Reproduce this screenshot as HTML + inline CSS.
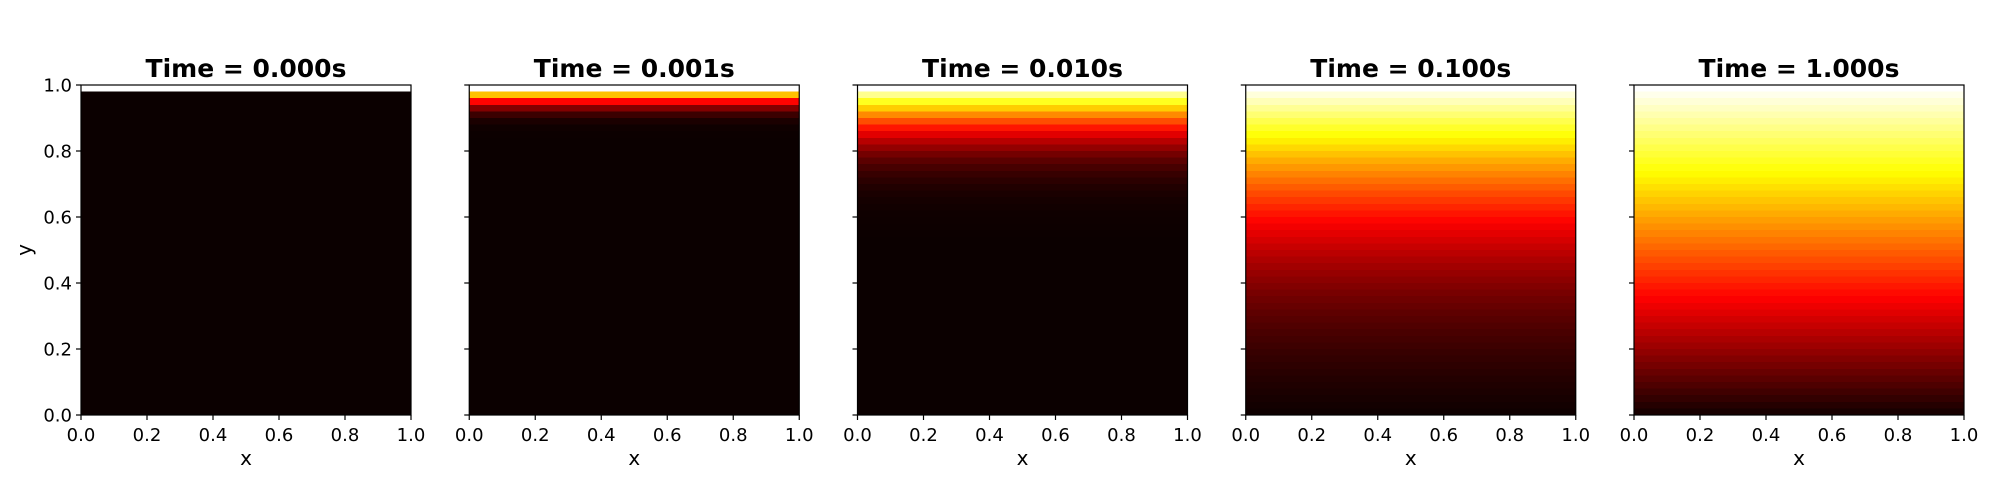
<!DOCTYPE html>
<html><head><meta charset="utf-8"><style>
html,body{margin:0;padding:0;background:#fff;}
svg{display:block;font-family:"DejaVu Sans","Liberation Sans",sans-serif;}
</style></head><body>
<svg id="fig" width="2000" height="500" viewBox="0 0 2000 500" xmlns="http://www.w3.org/2000/svg"></svg>
<script>
// ---- data ----
const panelTitles = ["Time = 0.000s","Time = 0.001s","Time = 0.010s","Time = 0.100s","Time = 1.000s"];
const tickLabels = ["0.0","0.2","0.4","0.6","0.8","1.0"];
const tickValues = [0,0.2,0.4,0.6,0.8,1.0];
const cellHeight = 0.02;
// temperature per row, top row (y=1.00..0.98) first, down to bottom row (0.02..0.00)
const tempT0 = [1,0,0,0,0,0,0,0,0,0,0,0,0,0,0,0,0,0,0,0,0,0,0,0,0,0,0,0,0,0,0,0,0,0,0,0,0,0,0,0,0,0,0,0,0,0,0,0,0,0];
const tempT1 = [1,0.655,0.37,0.179,0.072,0.025,0.0072,0.002,0,0,0,0,0,0,0,0,0,0,0,0,0,0,0,0,0,0,0,0,0,0,0,0,0,0,0,0,0,0,0,0,0,0,0,0,0,0,0,0,0,0];
const tempT2 = [1,0.8875,0.7773,0.6714,0.5716,0.4795,0.3961,0.3222,0.2579,0.2031,0.1573,0.1198,0.0897,0.066,0.0477,0.0339,0.0237,0.0162,0.0109,0.0072,0.0047,0.003,0.0019,0.0011,0.0007,0,0,0,0,0,0,0,0,0,0,0,0,0,0,0,0,0,0,0,0,0,0,0,0,0];
const tempT3 = [1,0.9643,0.9288,0.8936,0.8587,0.8231,0.7885,0.7543,0.7205,0.6873,0.6547,0.6227,0.5915,0.5609,0.5312,0.5022,0.474,0.4469,0.4206,0.3952,0.3707,0.3472,0.3246,0.3031,0.2824,0.2627,0.244,0.2261,0.2092,0.193,0.1779,0.1636,0.15,0.1373,0.1252,0.1138,0.1032,0.0931,0.0837,0.0747,0.0663,0.0585,0.0509,0.0437,0.0369,0.0303,0.024,0.0178,0.0118,0.0059];
const tempT4 = [1,0.98,0.96,0.94,0.92,0.9,0.88,0.86,0.84,0.82,0.8,0.78,0.76,0.74,0.72,0.7,0.68,0.66,0.64,0.62,0.6,0.58,0.56,0.54,0.52,0.5,0.48,0.46,0.44,0.42,0.4,0.38,0.36,0.34,0.32,0.3,0.28,0.26,0.24,0.22,0.2,0.18,0.16,0.14,0.12,0.1,0.08,0.06,0.04,0.02];
const panelData = [tempT0,tempT1,tempT2,tempT3,tempT4];

// ---- layout ----
const NS="http://www.w3.org/2000/svg";
const svg=document.getElementById('fig');
const AX_TOP=85, AX_H=330, AX_W=330, FIRST_LEFT=81, STEP=388.25;
function mk(tag,attrs,parent){const e=document.createElementNS(NS,tag);for(const k in attrs)e.setAttribute(k,attrs[k]);(parent||svg).appendChild(e);return e;}
function hot(v){v=Math.max(0,Math.min(1,v));
  const r=Math.min(1,0.0416+v/0.365*(1-0.0416));
  const g=Math.max(0,Math.min(1,(v-0.365)/0.381));
  const b=Math.max(0,Math.min(1,(v-0.746)/0.254));
  return `rgb(${Math.round(r*255)},${Math.round(g*255)},${Math.round(b*255)})`;}

panelData.forEach((vals,p)=>{
  const left=FIRST_LEFT+p*STEP;
  const xS=v=>left+v*AX_W;
  const yS=v=>AX_TOP+(1-v)*AX_H;
  const g=mk('g',{});
  
  
  vals.forEach((t,i)=>{
    const yTop=1-i*cellHeight, yBot=yTop-cellHeight;
    const r=mk('rect',{x:xS(0),y:yS(yTop),width:AX_W,height:yS(yBot)-yS(yTop)+0.6,fill:hot(t),'shape-rendering':'crispEdges'},g);
    
    
  });
  const fr=mk('rect',{x:left,y:AX_TOP,width:AX_W,height:AX_H,fill:'none',stroke:'#000','stroke-width':1.2},g);
  
  
  const ti=mk('text',{x:left+AX_W/2,y:77,'text-anchor':'middle','font-size':25,'font-weight':'bold'},g);
  ti.textContent=panelTitles[p];
  
  
  tickValues.forEach((tv,k)=>{
    mk('line',{x1:xS(tv),x2:xS(tv),y1:AX_TOP+AX_H,y2:AX_TOP+AX_H+5,stroke:'#000','stroke-width':1.2},g);
    const xt=mk('text',{x:xS(tv),y:AX_TOP+AX_H+26,'text-anchor':'middle','font-size':18},g);
    xt.textContent=tickLabels[k];
    
    
    mk('line',{x1:left-5,x2:left,y1:yS(tv),y2:yS(tv),stroke:'#000','stroke-width':1.2},g);
    if(p===0){
      const yt=mk('text',{x:left-9,y:yS(tv)+6.5,'text-anchor':'end','font-size':18},g);
      yt.textContent=tickLabels[k];
      
      
    }
  });
  const xl=mk('text',{x:left+AX_W/2,y:465,'text-anchor':'middle','font-size':20},g);
  xl.textContent='x';
  
  
});
const yl=mk('text',{x:0,y:0,'text-anchor':'middle','font-size':20,transform:'translate(31,250) rotate(-90)'});
yl.textContent='y';


</script>
</body></html>
